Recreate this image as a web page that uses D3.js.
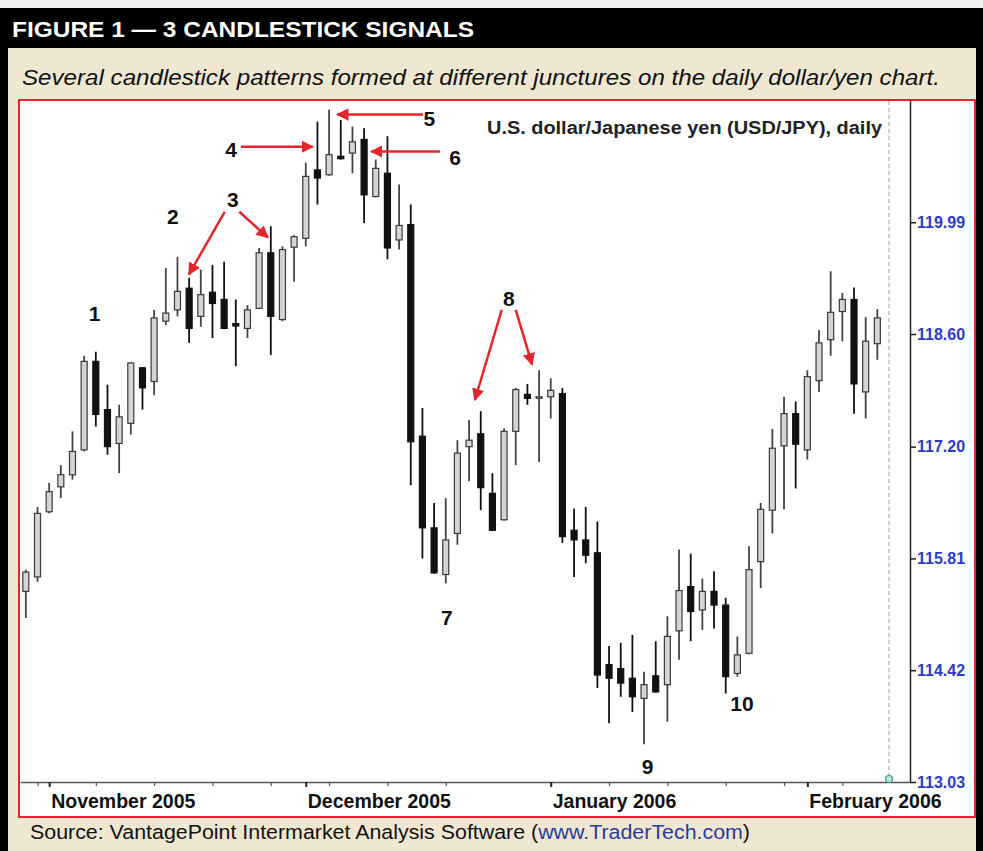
<!DOCTYPE html>
<html>
<head>
<meta charset="utf-8">
<script src="https://cdn.jsdelivr.net/npm/d3@7"></script>
<style>
  body { margin: 0; background: #fff; }
  svg { display: block; font-family: "Liberation Sans", Arial, sans-serif; }
</style>
</head>
<body>
<svg id="chart"></svg>
<script>
// Daily USD/JPY, 28 Oct 2005 .. 9 Feb 2006 (weekdays, Dec 26 missing)
const firstDay = new Date(2005, 9, 28);
const lastDay = new Date(2006, 1, 10);
const holidays = ["2005-12-26"];

const openP = [115.40, 115.58, 116.39, 116.70, 116.85, 117.16, 118.26, 117.66, 117.24, 117.49,
  118.18, 118.01, 118.76, 118.90, 119.17, 118.82, 119.12, 119.03, 118.73, 118.67,
  118.92, 119.61, 118.78, 119.68, 119.79, 120.64, 120.58, 120.81, 120.85, 121.02,
  120.31, 120.60, 119.77, 119.96, 117.33, 116.19, 115.61, 116.12, 117.20, 117.36,
  116.62, 116.29, 117.39, 117.85, 117.82, 117.82, 117.86, 116.16, 116.04, 115.88,
  114.49, 114.44, 114.32, 114.07, 114.35, 114.24, 114.91, 115.46, 115.17, 115.40,
  115.23, 114.38, 114.63, 115.77, 116.41, 117.21, 117.61, 117.16, 118.02, 118.53,
  118.88, 119.03, 117.88, 118.48];
const highP = [115.67, 116.45, 116.75, 116.97, 117.39, 118.33, 118.38, 117.97, 117.72, 118.25,
  118.19, 118.90, 119.42, 119.56, 119.30, 119.40, 119.46, 119.50, 119.03, 118.96,
  119.67, 119.94, 119.69, 119.83, 120.73, 121.24, 121.39, 121.26, 121.18, 121.16,
  120.77, 121.06, 120.46, 120.21, 117.68, 116.50, 116.56, 117.28, 117.53, 117.64,
  116.87, 117.43, 117.93, 117.98, 118.15, 118.05, 117.93, 116.43, 116.45, 116.27,
  114.72, 114.76, 114.86, 114.40, 114.78, 115.09, 115.92, 115.87, 115.56, 115.65,
  115.32, 114.84, 115.96, 116.50, 117.42, 117.82, 117.76, 118.15, 118.65, 119.38,
  119.11, 119.18, 118.81, 118.91];
const lowP = [115.07, 115.52, 116.37, 116.56, 116.79, 117.14, 117.45, 117.10, 116.87, 117.35,
  117.66, 117.84, 118.71, 118.82, 118.49, 118.69, 118.55, 118.66, 118.20, 118.55,
  118.91, 118.34, 118.76, 119.25, 119.69, 120.21, 120.57, 120.77, 120.60, 119.98,
  120.30, 119.53, 119.65, 116.72, 115.81, 115.62, 115.50, 115.98, 116.77, 116.41,
  116.15, 116.28, 116.97, 117.72, 117.01, 117.55, 116.00, 115.58, 115.75, 114.20,
  113.76, 114.09, 113.90, 113.50, 114.14, 113.78, 114.55, 114.78, 114.92, 114.94,
  114.13, 114.34, 114.62, 115.44, 116.12, 116.42, 116.68, 117.04, 117.88, 118.33,
  118.51, 117.61, 117.55, 118.28];
const closeP = [115.64, 116.37, 116.64, 116.85, 117.14, 118.26, 117.60, 117.20, 117.57, 118.24,
  117.93, 118.80, 118.86, 119.13, 118.67, 119.09, 118.98, 118.67, 118.70, 118.90,
  119.61, 118.82, 119.65, 119.81, 120.56, 120.54, 120.83, 120.78, 120.99, 120.33,
  120.66, 119.67, 119.95, 117.26, 116.19, 115.63, 116.04, 117.12, 117.28, 116.69,
  116.16, 117.39, 117.91, 117.80, 117.82, 117.90, 116.08, 116.04, 115.85, 114.36,
  114.32, 114.26, 114.09, 114.24, 114.15, 114.84, 115.41, 115.15, 115.40, 115.23,
  114.34, 114.61, 115.67, 116.42, 117.18, 117.61, 117.23, 118.07, 118.49, 118.87,
  119.03, 117.98, 118.51, 118.80];

const yTicks = [113.03, 114.42, 115.81, 117.20, 118.60, 119.99];

// pattern numbers: [label, day index, price]
const labels = [
  ["1", 5.9, 118.86], ["2", 12.6, 120.06], ["3", 17.75, 120.27], ["4", 17.6, 120.89],
  ["5", 34.6, 121.28], ["6", 36.8, 120.80], ["7", 36.1, 115.08], ["8", 41.4, 119.04],
  ["9", 53.3, 113.22], ["10", 61.4, 114.01]
];
// arrows: [from index, from price, to index, to price]
const arrows = [
  [17.05, 120.12, 13.98, 119.34], [18.3, 120.12, 20.75, 119.80],
  [18.45, 120.93, 24.6, 120.93], [34.05, 121.33, 26.7, 121.33],
  [35.5, 120.87, 29.6, 120.87], [40.8, 118.90, 38.5, 117.78],
  [42.0, 118.90, 43.4, 118.22]
];

const W = 983, H = 851;
const fmt = d3.timeFormat("%Y-%m-%d");
const dates = d3.timeDay.range(firstDay, lastDay)
  .filter(d => d.getDay() !== 0 && d.getDay() !== 6 && !holidays.includes(fmt(d)));
const data = dates.map((d, i) => ({date: d, i: i, o: openP[i], h: highP[i], l: lowP[i], c: closeP[i]}));

const svg = d3.select("#chart").attr("width", W).attr("height", H);

// frame
svg.append("rect").attr("width", W).attr("height", H).attr("fill", "#f2f2f2");
svg.append("rect").attr("x", 0).attr("y", 8).attr("width", W).attr("height", H - 8).attr("fill", "#000");
svg.append("text").attr("x", 12).attr("y", 37)
  .attr("fill", "#fff").attr("font-weight", "bold").attr("font-size", 22)
  .attr("textLength", 462).attr("lengthAdjust", "spacingAndGlyphs")
  .text("FIGURE 1 \u2014 3 CANDLESTICK SIGNALS");
svg.append("rect").attr("x", 8).attr("y", 48).attr("width", 968).attr("height", H - 48).attr("fill", "#efe7d2");
svg.append("text").attr("x", 22).attr("y", 85)
  .attr("fill", "#111").attr("font-style", "italic").attr("font-size", 22)
  .attr("textLength", 918).attr("lengthAdjust", "spacingAndGlyphs")
  .text("Several candlestick patterns formed at different junctures on the daily dollar/yen chart.");
svg.append("rect").attr("x", 19).attr("y", 100).attr("width", 956).attr("height", 717)
  .attr("fill", "#fff").attr("stroke", "#e4262c").attr("stroke-width", 2);

const src = svg.append("text").attr("x", 30).attr("y", 839).attr("font-size", 20.5).attr("fill", "#111")
  .attr("textLength", 720).attr("lengthAdjust", "spacingAndGlyphs");
src.append("tspan").text("Source: VantagePoint Intermarket Analysis Software (");
src.append("tspan").attr("fill", "#2a3a9c").text("www.TraderTech.com");
src.append("tspan").text(")");

// scales
const x = d3.scaleLinear().domain([-0.5, 75.8]).range([20, 910]);
const y = d3.scaleLinear().domain([113.03, 121.51]).range([782, 100]);

// right y axis
const yAxis = svg.append("g").attr("transform", "translate(910,0)")
  .call(d3.axisRight(y).tickValues(yTicks).tickFormat(d3.format(".2f")).tickSize(6).tickSizeOuter(0).tickPadding(1));
yAxis.select(".domain").attr("stroke", "#222").attr("stroke-width", 1.5);
yAxis.selectAll(".tick line").attr("stroke", "#222").attr("stroke-width", 1.5);
yAxis.selectAll("text").attr("fill", "#2b3bd0").attr("font-size", 16).attr("font-weight", "bold")
  .attr("font-family", "Liberation Sans, Arial, sans-serif");

// x axis: weekly ticks on Mondays, heavier ticks at month starts
const mondays = data.filter(d => d.date.getDay() === 1).map(d => d.i);
const monthStarts = data.filter((d, k) => k > 0 && d.date.getMonth() !== data[k - 1].date.getMonth());
const xAxis = svg.append("g").attr("transform", "translate(0,782)")
  .call(d3.axisBottom(x).tickValues(mondays).tickFormat("").tickSize(4).tickSizeOuter(0));
xAxis.select(".domain").attr("stroke", "#555").attr("stroke-width", 1.5);
xAxis.selectAll(".tick line").attr("stroke", "#555").attr("stroke-width", 1.2);
const xMonth = svg.append("g").attr("transform", "translate(0,782)")
  .call(d3.axisBottom(x).tickValues(monthStarts.map(d => d.i)).tickFormat("").tickSize(5).tickSizeOuter(0));
xMonth.select(".domain").remove();
xMonth.selectAll(".tick line").attr("stroke", "#222").attr("stroke-width", 2);
svg.append("g").selectAll("text").data(monthStarts).join("text")
  .attr("x", d => x(d.i) + 2).attr("y", 808)
  .attr("font-size", 19.5).attr("font-weight", "bold").attr("fill", "#111")
  .text(d => d3.timeFormat("%B %Y")(d.date));

// next-day marker line
const nextIdx = data.length;
svg.append("line").attr("x1", x(nextIdx)).attr("x2", x(nextIdx)).attr("y1", 101).attr("y2", 782)
  .attr("stroke", "#9a9a9a").attr("stroke-width", 1).attr("stroke-dasharray", "4,3");
svg.append("circle").attr("cx", x(nextIdx)).attr("cy", 779).attr("r", 3.5)
  .attr("fill", "#bfe3dc").attr("stroke", "#3a9a8a").attr("stroke-width", 1.2);

// chart title
svg.append("text").attr("x", 882).attr("y", 134).attr("text-anchor", "end")
  .attr("font-size", 18).attr("font-weight", "bold").attr("fill", "#222")
  .attr("textLength", 395).attr("lengthAdjust", "spacingAndGlyphs")
  .text("U.S. dollar/Japanese yen (USD/JPY), daily");

// candles
const bodyW = 6;
const candles = svg.append("g").selectAll("g").data(data).join("g");
candles.append("line")
  .attr("x1", d => x(d.i)).attr("x2", d => x(d.i))
  .attr("y1", d => y(d.h)).attr("y2", d => y(d.l))
  .attr("stroke", d => d.c < d.o ? "#111" : "#444").attr("stroke-width", 1.8);
candles.append("rect")
  .attr("x", d => x(d.i) - bodyW / 2).attr("width", bodyW)
  .attr("y", d => y(Math.max(d.o, d.c)))
  .attr("height", d => Math.max(1.5, Math.abs(y(d.o) - y(d.c))))
  .attr("fill", d => d.c < d.o ? "#111" : "#d4d4d4")
  .attr("stroke", d => d.c < d.o ? "#111" : "#3a3a3a").attr("stroke-width", 1.2);

// annotations
const defs = svg.append("defs");
defs.append("marker").attr("id", "head").attr("viewBox", "0 0 10 10")
  .attr("refX", 9).attr("refY", 5).attr("markerWidth", 5).attr("markerHeight", 5)
  .attr("markerUnits", "strokeWidth").attr("orient", "auto")
  .append("path").attr("d", "M0,0 L10,5 L0,10 Z").attr("fill", "#e4262c");
svg.append("g").selectAll("line").data(arrows).join("line")
  .attr("x1", d => x(d[0])).attr("y1", d => y(d[1]))
  .attr("x2", d => x(d[2])).attr("y2", d => y(d[3]))
  .attr("stroke", "#e4262c").attr("stroke-width", 2.5).attr("marker-end", "url(#head)");
svg.append("g").selectAll("text").data(labels).join("text")
  .attr("x", d => x(d[1])).attr("y", d => y(d[2]))
  .attr("text-anchor", "middle").attr("dominant-baseline", "central")
  .attr("font-size", 21).attr("font-weight", "bold").attr("fill", "#111")
  .text(d => d[0]);
</script>
</body>
</html>
